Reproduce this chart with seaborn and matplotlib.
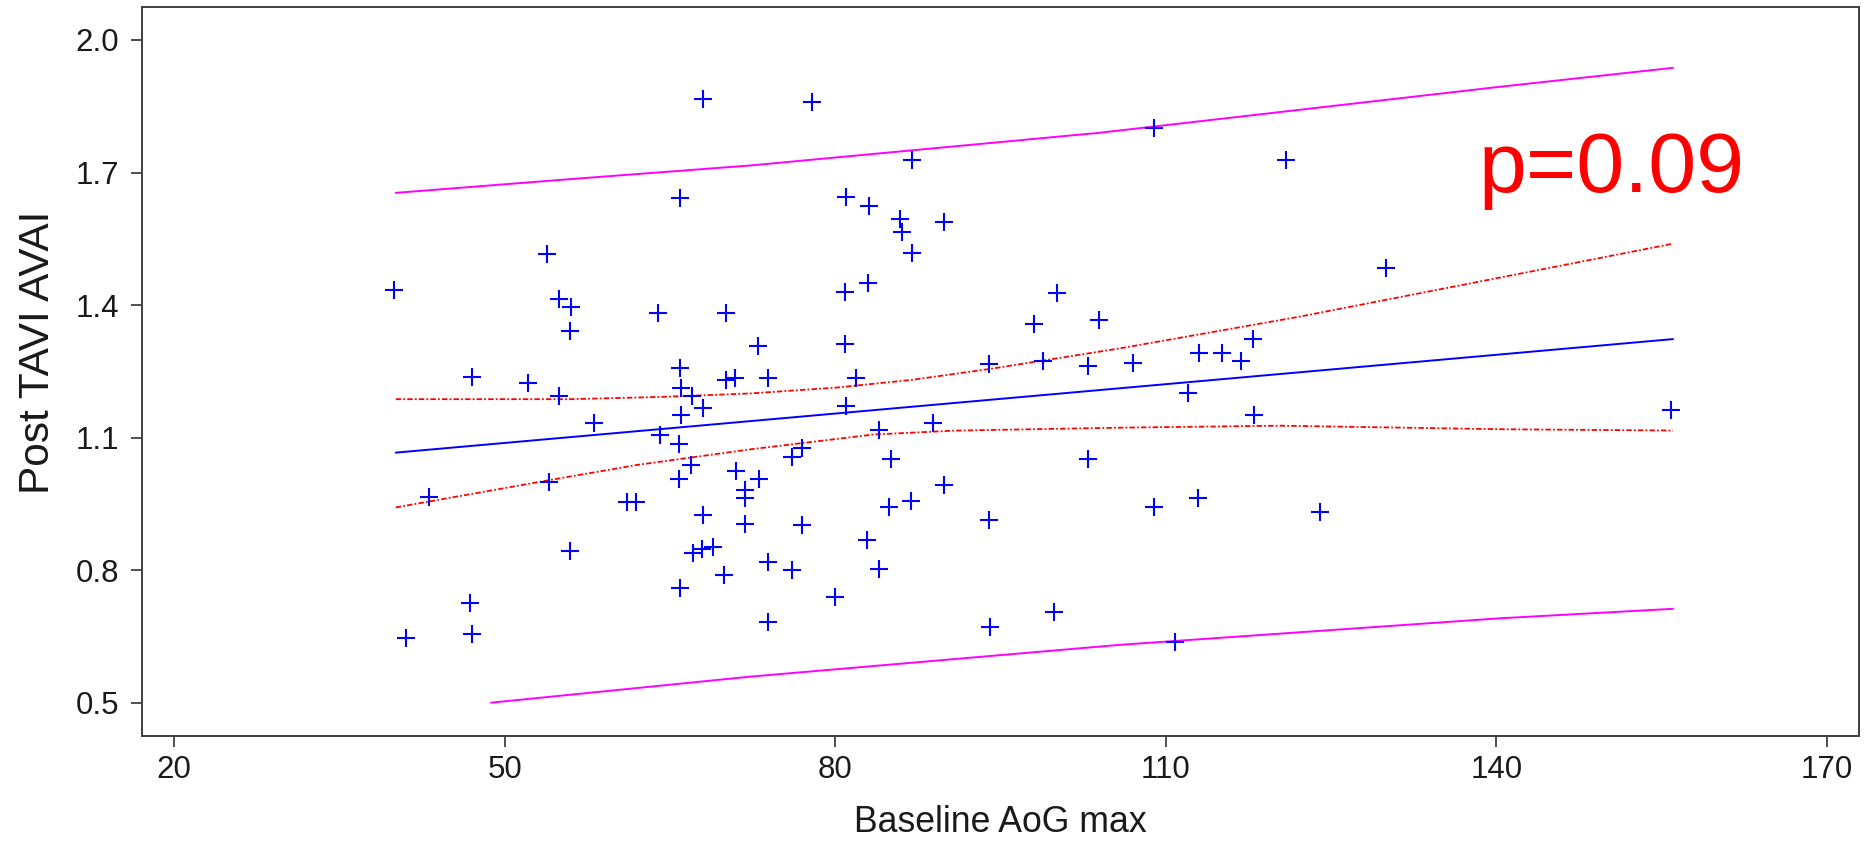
import matplotlib
matplotlib.use("Agg")
import matplotlib.pyplot as plt
import seaborn as sns
import pandas as pd

# ---- data ----
aog_max = [68.02, 65.9, 53.8, 39.94, 54.95, 56.01, 55.9, 63.88, 70.08, 47.05,
           52.08, 65.9, 70.08, 70.9, 54.95, 66.0, 67.02,
           68.02, 66.0, 58.1, 64.09, 65.84, 66.9, 70.96, 65.84, 54.04, 71.8,
           71.8, 71.8, 43.12, 61.12, 61.91, 68.02, 55.9, 67.06, 67.88, 68.88,
           69.93, 65.9, 46.84, 47.05, 41.03,
           77.86, 86.99, 80.98, 83.06, 85.88, 86.09, 89.9, 86.99, 80.88, 82.94,
           100.1, 98.04, 103.94, 72.96, 80.88, 73.9, 81.88, 93.96, 98.83, 102.92,
           80.97, 88.85, 84.0, 76.1, 76.95, 85.06, 102.92, 73.08, 89.87, 84.9,
           86.88, 77.0, 93.93, 82.91, 73.9, 76.1, 84.0, 79.95, 73.9, 94.05, 99.88,
           108.93, 120.89, 129.97, 107.06, 113.02, 115.08, 116.83, 117.95, 112.05,
           118.04, 108.93, 112.9, 124.03, 110.81,
           155.84]
post_avai = [1.866, 1.643, 1.516, 1.433, 1.413, 1.395, 1.342, 1.383, 1.383, 1.238,
             1.224, 1.257, 1.230, 1.234, 1.195, 1.213, 1.195,
             1.168, 1.151, 1.134, 1.106, 1.086, 1.038, 1.025, 1.006, 1.000, 0.982,
             0.963, 0.905, 0.965, 0.954, 0.954, 0.925, 0.844, 0.838, 0.847, 0.853,
             0.789, 0.760, 0.725, 0.656, 0.647,
             1.860, 1.728, 1.644, 1.624, 1.595, 1.566, 1.589, 1.517, 1.430, 1.451,
             1.427, 1.357, 1.366, 1.308, 1.311, 1.236, 1.236, 1.266, 1.274, 1.261,
             1.172, 1.134, 1.117, 1.056, 1.076, 1.052, 1.052, 1.006, 0.992, 0.942,
             0.957, 0.902, 0.914, 0.868, 0.818, 0.800, 0.803, 0.740, 0.682, 0.671, 0.706,
             1.800, 1.728, 1.483, 1.270, 1.291, 1.291, 1.273, 1.323, 1.200,
             1.151, 0.943, 0.963, 0.931, 0.638,
             1.162]

fit_x = [40.1, 156.05]
fit_y = [1.066, 1.323]

ci_upper_x = [40.1, 55.9, 64.1, 72.3, 80.0, 87.05, 94.05, 105.85, 122.2, 140.3, 156.05]
ci_upper_y = [1.187, 1.187, 1.192, 1.200, 1.213, 1.231, 1.2555, 1.302, 1.374, 1.462, 1.539]
ci_lower_x = [40.1, 54.1, 61.97, 72.3, 83.45, 90.7, 105.85, 120.4, 140.3, 156.05]
ci_lower_y = [0.942, 1.004, 1.038, 1.0735, 1.107, 1.1157, 1.1225, 1.127, 1.119, 1.116]

pi_upper_x = [40.1, 55.9, 72.3, 104.0, 140.3, 156.05]
pi_upper_y = [1.654, 1.685, 1.716, 1.790, 1.894, 1.937]
pi_lower_x = [48.75, 72.3, 105.85, 140.3, 156.05]
pi_lower_y = [0.500, 0.559, 0.631, 0.691, 0.7125]

x_ticks = [20, 50, 80, 110, 140, 170]
y_ticks = [0.5, 0.8, 1.1, 1.4, 1.7, 2.0]
x_label = "Baseline AoG max"
y_label = "Post TAVI AVAI"
annotation = "p=0.09"

# ---- style ----
sns.set_theme(style="white")
plt.rcParams['font.family'] = ['Liberation Sans', 'DejaVu Sans']

fig = plt.figure(figsize=(18.64, 8.49), dpi=100)
ax = fig.add_axes([0.07602, 0.13345, 0.92146, 0.85795])

pts = pd.DataFrame({"x": aog_max, "y": post_avai})
sns.scatterplot(data=pts, x="x", y="y", marker="+", s=150, color="#0000ff",
                linewidth=1.5, ax=ax, zorder=3)

sns.lineplot(x=fit_x, y=fit_y, color="#0000ff", linewidth=1.4, ax=ax,
             estimator=None, sort=False)
sns.lineplot(x=pi_upper_x, y=pi_upper_y, color="#ff00ff", linewidth=1.4, ax=ax,
             estimator=None, sort=False)
sns.lineplot(x=pi_lower_x, y=pi_lower_y, color="#ff00ff", linewidth=1.4, ax=ax,
             estimator=None, sort=False)
l1 = sns.lineplot(x=ci_upper_x, y=ci_upper_y, color="#ff0000", linewidth=1.3, ax=ax,
                  estimator=None, sort=False).lines[-1]
l1.set_linestyle((0, (3, 1.2, 1, 1.2)))
l2 = sns.lineplot(x=ci_lower_x, y=ci_lower_y, color="#ff0000", linewidth=1.3, ax=ax,
                  estimator=None, sort=False).lines[-1]
l2.set_linestyle((0, (3, 1.2, 1, 1.2)))

ax.text(138.35, 1.656, annotation, color="#ff0000", fontsize=62,
        ha="left", va="baseline")

ax.set_xlim(17.04, 172.96)
ax.set_ylim(0.4253, 2.074)
ax.set_xticks(x_ticks)
ax.set_xticklabels([str(t) for t in x_ticks])
ax.set_yticks(y_ticks)
ax.set_yticklabels([f"{t:.1f}" for t in y_ticks])

for sp in ax.spines.values():
    sp.set_color("#404040")
    sp.set_linewidth(1.4)
    sp.set_visible(True)

ax.tick_params(axis="both", direction="out", length=8, width=1.3,
               color="#404040", labelsize=22.5, labelcolor="#1a1a1a",
               bottom=True, left=True, top=False, right=False)
ax.tick_params(axis="x", pad=6)
ax.tick_params(axis="y", pad=8)

ax.set_xlabel(x_label, fontsize=25.7, color="#1a1a1a", labelpad=14)
ax.set_ylabel(y_label, fontsize=30.5, color="#1a1a1a")
ax.yaxis.set_label_coords(-0.049, 0.527)
ax.grid(False)

fig.savefig("out.png", dpi=100)
